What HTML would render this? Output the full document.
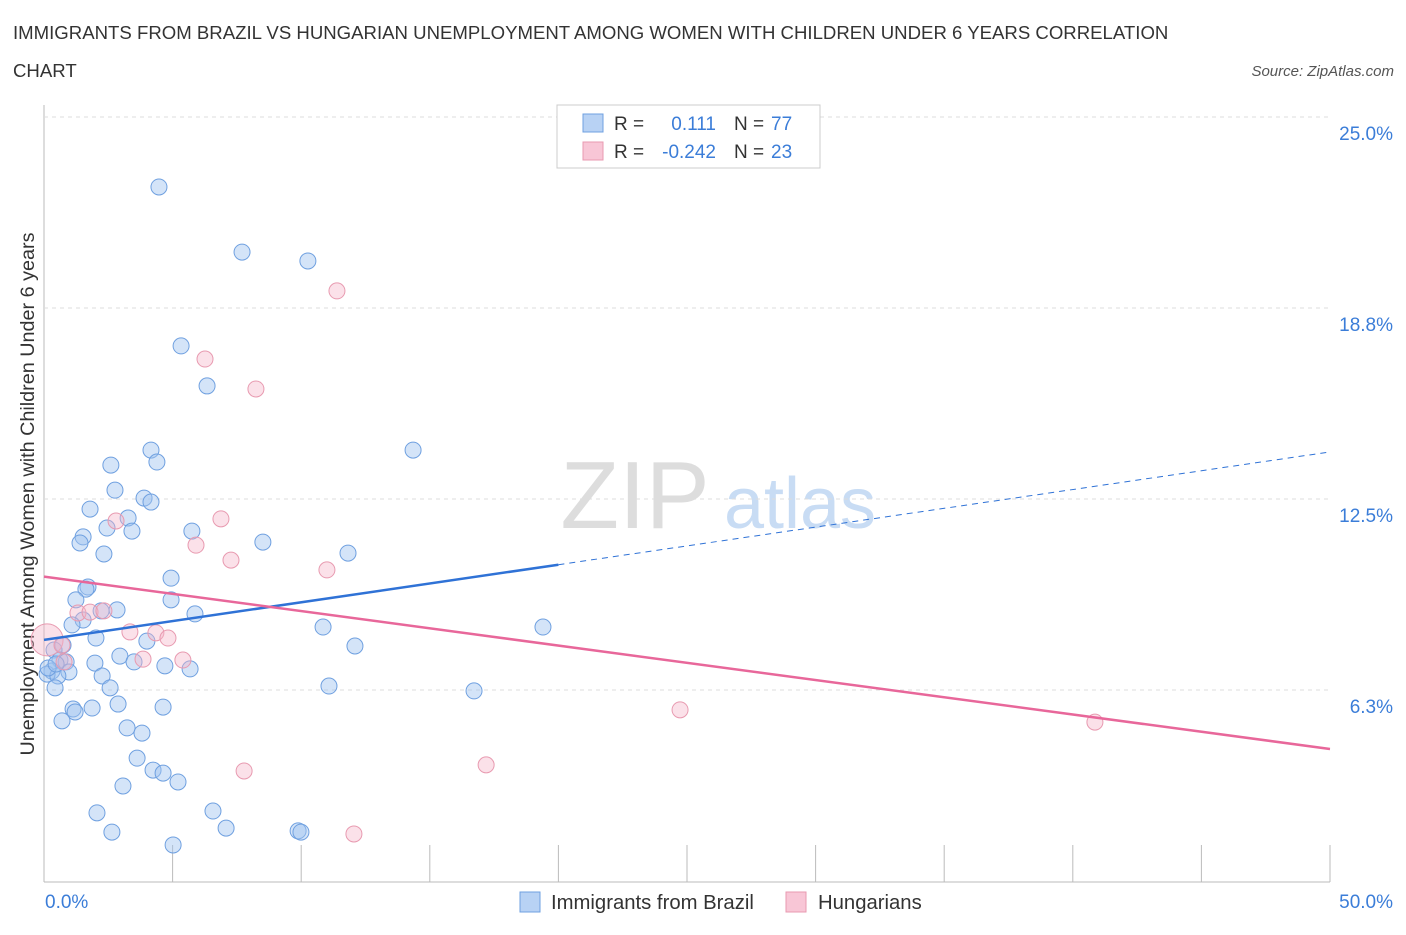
<!DOCTYPE html>
<html><head><meta charset="utf-8"><style>
body{margin:0;background:#fff;font-family:"Liberation Sans",sans-serif}
svg text{font-family:"Liberation Sans",sans-serif}
</style></head><body>
<svg id="c" width="1406" height="930">
<text x="13" y="39" font-size="18.6" fill="#333">IMMIGRANTS FROM BRAZIL VS HUNGARIAN UNEMPLOYMENT AMONG WOMEN WITH CHILDREN UNDER 6 YEARS CORRELATION</text>
<text x="13" y="77" font-size="18.6" fill="#333">CHART</text>
<text x="1394" y="76" font-size="15" fill="#555" font-style="italic" text-anchor="end">Source: ZipAtlas.com</text>
<text x="635" y="528" font-size="96" fill="#ddd" font-family="Liberation Serif" text-anchor="middle">ZIP</text>
<text x="800" y="528" font-size="72" fill="#c8dcf4" text-anchor="middle">atlas</text>
<text transform="translate(34,494) rotate(-90)" font-size="19.8" fill="#333" text-anchor="middle">Unemployment Among Women with Children Under 6 years</text>
<g id="grid"></g><g id="pts"></g><g id="lines"></g>
<g>
<rect x="557" y="105" width="263" height="63" fill="#fff" stroke="#ccc"/>
<rect x="583" y="114" width="20" height="18" fill="#b8d2f4" stroke="#6fa0e0"/>
<rect x="583" y="142" width="20" height="18" fill="#f8c6d6" stroke="#e89ab0"/>
<text x="614" y="130" font-size="19" fill="#333">R =</text>
<text x="716" y="130" font-size="19" fill="#3b7dd8" text-anchor="end">0.111</text>
<text x="734" y="130" font-size="19" fill="#333">N =</text>
<text x="771" y="130" font-size="19" fill="#3b7dd8">77</text>
<text x="614" y="158" font-size="19" fill="#333">R =</text>
<text x="716" y="158" font-size="19" fill="#3b7dd8" text-anchor="end">-0.242</text>
<text x="734" y="158" font-size="19" fill="#333">N =</text>
<text x="771" y="158" font-size="19" fill="#3b7dd8">23</text>
</g>
<g>
<rect x="520" y="892" width="20" height="20" fill="#b8d2f4" stroke="#6fa0e0"/>
<text x="551" y="909" font-size="20.3" fill="#333">Immigrants from Brazil</text>
<rect x="786" y="892" width="20" height="20" fill="#f8c6d6" stroke="#e89ab0"/>
<text x="818" y="909" font-size="20.3" fill="#333">Hungarians</text>
</g>
<text x="45" y="908" font-size="19" fill="#3b7dd8">0.0%</text>
<text x="1393" y="908" font-size="19" fill="#3b7dd8" text-anchor="end">50.0%</text>
</svg>
<script>
const yTicks=[6.25,12.5,18.75,25];
const yTickLabels=["6.3%","12.5%","18.8%","25.0%"];
const xTicks=[5,10,15,20,25,30,35,40,45,50];
const blueX=[4.47,7.70,10.26,5.33,6.34,4.16,4.39,2.60,14.35,2.76,3.89,4.16,1.79,3.27,5.75,2.45,3.42,1.52,1.40,8.51,2.33,11.82,4.94,1.71,1.63,1.24,4.94,2.84,2.22,5.87,1.52,1.09,10.85,19.40,2.02,4.00,12.09,0.74,0.39,2.95,0.62,0.86,1.98,3.50,4.70,5.68,0.31,0.97,0.12,0.54,2.26,0.43,2.57,11.08,16.72,2.88,1.87,1.13,1.21,4.63,0.70,3.23,3.81,3.62,4.24,4.63,5.21,3.07,2.06,6.57,2.64,7.08,9.88,9.99,5.02,0.16,0.47];
const blueY=[22.71,20.58,20.29,17.51,16.20,14.10,13.71,13.61,14.10,12.79,12.53,12.40,12.17,11.88,11.45,11.55,11.45,11.26,11.06,11.09,10.70,10.73,9.91,9.62,9.55,9.20,9.20,8.87,8.84,8.74,8.54,8.38,8.31,8.31,7.95,7.85,7.69,7.72,7.56,7.36,7.23,7.17,7.13,7.17,7.04,6.94,6.87,6.84,6.77,6.71,6.71,6.32,6.32,6.38,6.22,5.79,5.66,5.63,5.53,5.69,5.24,5.01,4.84,4.02,3.63,3.53,3.24,3.11,2.23,2.29,1.60,1.73,1.64,1.60,1.18,6.97,7.10];
const pinkX=[11.39,6.26,8.24,6.88,5.91,7.27,11.00,2.80,1.32,1.79,2.33,3.34,4.35,4.82,5.40,3.85,0.12,0.78,0.70,24.73,40.86,7.78,17.19,12.05];
const pinkY=[19.31,17.08,16.10,11.85,10.99,10.50,10.18,11.78,8.77,8.80,8.84,8.15,8.12,7.95,7.23,7.26,7.89,7.17,7.72,5.60,5.20,3.60,3.80,1.54];
const blueLine=[7.89,14.04];
const pinkLine=[9.96,4.32];
const X=v=>44+v*25.72, Y=v=>881-v*30.56;
const NS="http://www.w3.org/2000/svg";
function mk(t,a,p){const e=document.createElementNS(NS,t);for(const k in a)e.setAttribute(k,a[k]);p.appendChild(e);return e;}
const g=document.getElementById('grid');
let ax=mk('line',{x1:44,y1:105,x2:44,y2:882,stroke:'#bbb'},g);


let bx=mk('line',{x1:44,y1:882,x2:1330,y2:882,stroke:'#bbb'},g);


yTicks.forEach((v,i)=>{
 const l=mk('line',{x1:44,x2:1330,y1:Y(v),y2:Y(v),stroke:'#ddd','stroke-dasharray':'4,4'},g);
 
 
 const t=mk('text',{x:1393,y:Y(v)+23,'font-size':19,fill:'#3b7dd8','text-anchor':'end'},g);
 t.textContent=yTickLabels[i];
 
 
});
xTicks.forEach(v=>{
 const l=mk('line',{x1:X(v),x2:X(v),y1:845,y2:882,stroke:'#bbb'},g);
 
 
});
const p=document.getElementById('pts');
blueX.forEach((x,i)=>{
 const c=mk('circle',{cx:X(x),cy:Y(blueY[i]),r:8,fill:'rgba(160,196,240,0.45)',stroke:'#6fa0e0','stroke-width':1},p);
 
 
});
pinkX.forEach((x,i)=>{
 const c=mk('circle',{cx:X(x),cy:Y(pinkY[i]),r:i==16?16:8,fill:'rgba(245,180,200,0.4)',stroke:'#e89ab0','stroke-width':1},p);
 
 
});
const L=document.getElementById('lines');
const bAt=x=>blueLine[0]+(blueLine[1]-blueLine[0])*x/50;
let b1=mk('line',{x1:X(0),y1:Y(bAt(0)),x2:X(20),y2:Y(bAt(20)),stroke:'#2f72d6','stroke-width':2.5},L);


let b2=mk('line',{x1:X(20),y1:Y(bAt(20)),x2:X(50),y2:Y(bAt(50)),stroke:'#2f72d6','stroke-width':1,'stroke-dasharray':'6,5'},L);


let pl=mk('line',{x1:X(0),y1:Y(pinkLine[0]),x2:X(50),y2:Y(pinkLine[1]),stroke:'#e8679a','stroke-width':2.5},L);


</script>
</body></html>
